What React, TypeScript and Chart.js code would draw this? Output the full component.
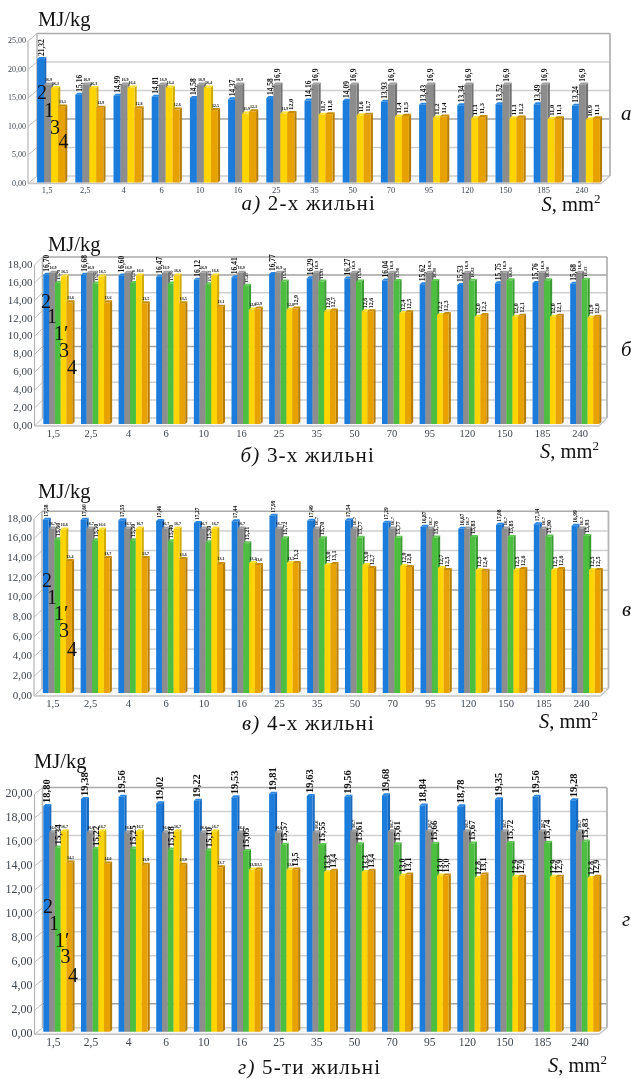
import React, { useEffect, useRef } from "react";
import { Chart, registerables } from "chart.js";

Chart.register(...registerables);

const categories = ["1,5", "2,5", "4", "6", "10", "16", "25", "35", "50", "70", "95", "120", "150", "185", "240"];

const aBlue = [21.32, 15.16, 14.99, 14.81, 14.58, 14.37, 14.58, 14.16, 14.09, 13.93, 13.43, 13.34, 13.52, 13.49, 13.24];
const aGray = [16.9, 16.9, 16.9, 16.9, 16.9, 16.9, 16.9, 16.9, 16.9, 16.9, 16.9, 16.9, 16.9, 16.9, 16.9];
const aYellow = [16.3, 16.3, 16.4, 16.4, 16.4, 11.9, 11.9, 11.7, 11.6, 11.4, 11.2, 11.1, 11.1, 11.0, 10.9];
const aOrange = [13.1, 12.9, 12.8, 12.6, 12.5, 12.3, 12.0, 11.8, 11.7, 11.5, 11.4, 11.3, 11.2, 11.1, 11.1];

const bBlue = [16.7, 16.68, 16.6, 16.47, 16.12, 16.41, 16.77, 16.29, 16.27, 16.04, 15.62, 15.53, 15.75, 15.76, 15.68];
const bGray = [16.9, 16.9, 16.9, 16.9, 16.9, 16.9, 16.9, 16.9, 16.9, 16.9, 16.9, 16.9, 16.9, 16.9, 16.9];
const bGreen = [15.79, 15.7, 15.76, 15.7, 15.63, 15.47, 15.94, 15.93, 15.94, 15.98, 16.0, 16.02, 16.06, 16.08, 16.13];
const bYellow = [16.5, 16.5, 16.6, 16.6, 16.6, 12.8, 12.8, 12.6, 12.6, 12.4, 12.2, 12.0, 12.0, 12.0, 11.9];
const bOrange = [13.6, 13.6, 13.5, 13.5, 13.1, 12.9, 12.9, 12.7, 12.6, 12.5, 12.3, 12.2, 12.1, 12.1, 12.0];

const cBlue = [17.58, 17.6, 17.55, 17.46, 17.27, 17.44, 17.99, 17.49, 17.54, 17.29, 16.87, 16.67, 17.08, 17.14, 16.99];
const cGray = [16.7, 16.7, 16.7, 16.7, 16.7, 16.7, 16.7, 16.7, 16.7, 16.7, 16.7, 16.7, 16.7, 16.7, 16.7];
const cGreen = [15.6, 15.5, 15.5, 15.4, 15.3, 15.21, 15.72, 15.7, 15.77, 15.77, 15.78, 15.83, 15.85, 15.9, 15.93];
const cYellow = [16.6, 16.6, 16.7, 16.7, 16.7, 13.2, 13.2, 13.0, 13.0, 12.9, 12.7, 12.5, 12.5, 12.5, 12.5];
const cOrange = [13.4, 13.7, 13.7, 13.6, 13.1, 13.0, 13.2, 13.1, 12.7, 12.8, 12.5, 12.4, 12.6, 12.6, 12.5];

const dBlue = [18.8, 19.38, 19.56, 19.02, 19.22, 19.53, 19.81, 19.63, 19.56, 19.68, 18.84, 18.78, 19.35, 19.56, 19.28];
const dGray = [16.6, 16.6, 16.6, 16.6, 16.6, 16.6, 16.6, 16.6, 16.7, 16.7, 16.7, 16.7, 16.7, 16.7, 16.7];
const dGreen = [15.34, 15.22, 15.25, 15.18, 15.1, 15.05, 15.57, 15.55, 15.61, 15.61, 15.66, 15.67, 15.72, 15.74, 15.83];
const dYellow = [16.7, 16.7, 16.7, 16.7, 16.7, 13.5, 13.5, 13.3, 13.3, 13.0, 13.0, 12.8, 12.9, 12.9, 12.8];
const dOrange = [14.1, 14.0, 13.9, 13.9, 13.7, 13.5, 13.5, 13.4, 13.4, 13.1, 13.0, 13.1, 12.9, 12.9, 12.9];

const SERIF = '"Liberation Serif"';
const BLUE = { label: "2", front: "#1b7cdc", side: "#1868bd", cap: "#2a86e0", decimals: 2 };
const GRAY = { label: "1", front: "#8d8d8d", side: "#727272", cap: "#a0a0a0", decimals: 1 };
const GREEN = { label: "1′", front: "#4dbf40", side: "#3a9c32", cap: "#5fc953", decimals: 2 };
const YELLOW = { label: "3", front: "#ffd400", side: "#d0ab00", cap: "#ffde33", decimals: 1 };
const ORANGE = { label: "4", front: "#e8a200", side: "#b57e00", cap: "#c48c00", decimals: 1 };

const fmt = (v: number, d: number) => v.toFixed(d).replace(".", ",");

type Panel = {
  canvasTop: number; canvasH: number;
  left: number; right: number; top: number; bottom: number;
  dx: number; dy: number; max: number; step: number;
  shiftX: number; shiftY: number; depthScale: number; frac: number;
  yFont: number; xFont: number; darkTicks: number[];
  series: { style: typeof BLUE; values: number[]; rotatedFrom: number; size: number }[];
};

const panels: Panel[] = [
  {
    canvasTop: 20, canvasH: 190, left: 28, right: 601, top: 41, bottom: 183.5,
    dx: 9, dy: 7.5, max: 25, step: 5, shiftX: 4, shiftY: 1, depthScale: 1.016, frac: 0.733,
    yFont: 8, xFont: 8.5, darkTicks: [10],
    series: [
      { style: BLUE, values: aBlue, rotatedFrom: 0, size: 7.5 },
      { style: GRAY, values: aGray, rotatedFrom: 6, size: 7.5 },
      { style: YELLOW, values: aYellow, rotatedFrom: 7, size: 6.5 },
      { style: ORANGE, values: aOrange, rotatedFrom: 6, size: 6.5 },
    ],
  },
  {
    canvasTop: 245, canvasH: 205, left: 34.5, right: 599, top: 265, bottom: 426,
    dx: 8, dy: 8, max: 18, step: 2, shiftX: 4.5, shiftY: 2, depthScale: 1, frac: 0.77,
    yFont: 11, xFont: 10.5, darkTicks: [8, 16],
    series: [
      { style: BLUE, values: bBlue, rotatedFrom: 0, size: 7.5 },
      { style: GRAY, values: bGray, rotatedFrom: 7, size: 5 },
      { style: GREEN, values: bGreen, rotatedFrom: 0, size: 4.5 },
      { style: YELLOW, values: bYellow, rotatedFrom: 7, size: 6 },
      { style: ORANGE, values: bOrange, rotatedFrom: 6, size: 6 },
    ],
  },
  {
    canvasTop: 495, canvasH: 225, left: 34, right: 600.5, top: 518.7, bottom: 696,
    dx: 8, dy: 7.5, max: 18, step: 2, shiftX: 4.5, shiftY: 3, depthScale: 1, frac: 0.77,
    yFont: 11, xFont: 10.5, darkTicks: [10],
    series: [
      { style: BLUE, values: cBlue, rotatedFrom: 0, size: 5.5 },
      { style: GRAY, values: cGray, rotatedFrom: 7, size: 5 },
      { style: GREEN, values: cGreen, rotatedFrom: 0, size: 6 },
      { style: YELLOW, values: cYellow, rotatedFrom: 7, size: 6 },
      { style: ORANGE, values: cOrange, rotatedFrom: 6, size: 6 },
    ],
  },
  {
    canvasTop: 765, canvasH: 295, left: 34.5, right: 599, top: 794, bottom: 1034.3,
    dx: 8, dy: 6.5, max: 20, step: 2, shiftX: 4.5, shiftY: 2.5, depthScale: 1, frac: 0.77,
    yFont: 12, xFont: 11.5, darkTicks: [2],
    series: [
      { style: BLUE, values: dBlue, rotatedFrom: 0, size: 10.5 },
      { style: GRAY, values: dGray, rotatedFrom: 7, size: 5 },
      { style: GREEN, values: dGreen, rotatedFrom: 0, size: 9 },
      { style: YELLOW, values: dYellow, rotatedFrom: 7, size: 8 },
      { style: ORANGE, values: dOrange, rotatedFrom: 6, size: 8 },
    ],
  },
];

function poly(ctx: CanvasRenderingContext2D, pts: number[][], fill: string) {
  ctx.beginPath();
  pts.forEach((p, i) => (i ? ctx.lineTo(p[0], p[1]) : ctx.moveTo(p[0], p[1])));
  ctx.closePath();
  ctx.fillStyle = fill;
  ctx.fill();
}

function line(ctx: CanvasRenderingContext2D, x1: number, y1: number, x2: number, y2: number, color: string, w: number) {
  ctx.beginPath();
  ctx.moveTo(x1, y1);
  ctx.lineTo(x2, y2);
  ctx.strokeStyle = color;
  ctx.lineWidth = w;
  ctx.stroke();
}

function pseudo3d(panel: Panel) {
  return {
    id: "pseudo3d",
    beforeDatasetsDraw(chart: any) {
      const ctx: CanvasRenderingContext2D = chart.ctx;
      const { left, right, top, bottom } = chart.chartArea;
      const yScale = chart.scales.y;
      const { dx, dy } = panel;

      // walls and floor
      poly(ctx, [[left, bottom], [right, bottom], [right + dx, bottom - dy], [left + dx, bottom - dy]], "#f8f8f8");
      yScale.ticks.forEach((t: any) => {
        const y = yScale.getPixelForValue(t.value);
        const isTop = t.value === panel.max;
        const dark = panel.darkTicks.includes(t.value);
        const color = isTop ? "#aaaaaa" : dark ? "#a2a2a2" : "#cfcfcf";
        line(ctx, left + dx, y - dy, right + dx, y - dy, color, isTop ? 1.6 : 1.5);
        line(ctx, left, y, left + dx, y - dy, "#bdbdbd", 1);
      });
      line(ctx, left + dx, top - dy, left + dx, bottom - dy, "#b5b5b5", 1.5);
      line(ctx, right + dx, top - dy, right + dx, bottom - dy, "#b5b5b5", 1.8);
      line(ctx, left, top, left, bottom, "#b5b5b5", 1.2);
      line(ctx, left, bottom, right, bottom, "#c4c4c4", 1.6);
      line(ctx, right, bottom, right + dx, bottom - dy, "#c4c4c4", 1.2);

      // bars, left to right so that each front hides the previous side
      const sx = 2.2;
      const sy = 2;
      const k = panel.depthScale;
      ctx.save();
      ctx.translate(panel.shiftX, -panel.shiftY + bottom * (1 - k));
      ctx.scale(1, k);
      panel.series.forEach((s, i) => {
        const meta = chart.getDatasetMeta(i);
        meta.data.forEach((bar: any) => {
          const l = bar.x - bar.width / 2;
          const r = bar.x + bar.width / 2;
          poly(ctx, [[r, bar.y], [r + sx, bar.y - sy], [r + sx, bar.base - sy], [r, bar.base]], s.style.side);
          poly(ctx, [[l, bar.y], [l + sx, bar.y - sy], [r + sx, bar.y - sy], [r, bar.y]], s.style.cap);
          bar.draw(ctx);
        });
      });
      ctx.restore();

      // value labels
      ctx.save();
      ctx.translate(panel.shiftX, -panel.shiftY);
      ctx.fillStyle = "#111111";
      panel.series.forEach((s, i) => {
        const meta = chart.getDatasetMeta(i);
        meta.data.forEach((bar: any, n: number) => {
          const text = fmt(s.values[n], s.style.decimals);
          const topY = bottom - (bottom - bar.y) * k;
          ctx.save();
          if (n >= s.rotatedFrom) {
            ctx.translate(bar.x + 1, topY - sy - 1);
            ctx.rotate(-Math.PI / 2);
            ctx.font = `bold ${s.size}px ${SERIF}`;
            ctx.textAlign = "left";
            ctx.textBaseline = "middle";
            ctx.fillText(text, 0, 0);
          } else {
            ctx.font = `bold 4px ${SERIF}`;
            ctx.textAlign = "center";
            ctx.textBaseline = "bottom";
            ctx.fillText(text, bar.x + 1, topY - sy - 0.5);
          }
          ctx.restore();
        });
      });
      ctx.restore();
      return false;
    },
  };
}

function PanelChart({ panel }: { panel: Panel }) {
  const ref = useRef<HTMLCanvasElement | null>(null);
  useEffect(() => {
    const chart = new Chart(ref.current as HTMLCanvasElement, {
      type: "bar",
      data: {
        labels: categories,
        datasets: panel.series.map((s) => ({
          label: s.style.label,
          data: s.values,
          backgroundColor: s.style.front,
          borderWidth: 0,
          barPercentage: 1,
          categoryPercentage: panel.frac,
        })),
      },
      options: {
        animation: false,
        responsive: false,
        maintainAspectRatio: false,
        layout: { padding: { left: 0, right: 631 - panel.right, top: panel.top - panel.canvasTop, bottom: 0 } },
        plugins: { legend: { display: false }, title: { display: false }, tooltip: { enabled: false } },
        scales: {
          x: {
            grid: { display: false, drawTicks: false },
            border: { display: false },
            ticks: {
              autoSkip: false,
              maxRotation: 0,
              padding: 2,
              color: "#3d4650",
              font: { family: SERIF, size: panel.xFont },
            },
            afterFit: (s: any) => { s.height = panel.canvasTop + panel.canvasH - panel.bottom; },
          },
          y: {
            min: 0,
            max: panel.max,
            grid: { display: false, drawTicks: false },
            border: { display: false },
            ticks: {
              stepSize: panel.step,
              padding: 2,
              color: "#3d4650",
              font: { family: SERIF, size: panel.yFont },
              callback: (v: any) => fmt(Number(v), 2),
            },
            afterFit: (s: any) => { s.width = panel.left; },
          },
        },
      },
      plugins: [pseudo3d(panel)],
    } as any);
    return () => chart.destroy();
  }, [panel]);
  return (
    <canvas
      ref={ref}
      width={631}
      height={panel.canvasH}
      style={{ position: "absolute", left: 0, top: panel.canvasTop, width: 631, height: panel.canvasH }}
    />
  );
}

function Txt({ x, base, size, children, spacing }: any) {
  return (
    <span
      style={{
        position: "absolute",
        left: x,
        top: base - 0.8375 * size,
        fontFamily: SERIF,
        fontSize: size,
        lineHeight: 1,
        whiteSpace: "nowrap",
        color: "#111111",
        letterSpacing: spacing || 0,
      }}
    >
      {children}
    </span>
  );
}

const unitText = "MJ/kg";
const axisName = ", mm";
const captions = [
  { letter: "а)", rest: " 2-х жильні", side: "а", x: 241.5, base: 211, sX: 541.5, sBase: 211.5, uX: 38, uBase: 26, lX: 621, lBase: 121 },
  { letter: "б)", rest: " 3-х жильні", side: "б", x: 240.5, base: 463, sX: 540, sBase: 458, uX: 48, uBase: 251, lX: 621, lBase: 357 },
  { letter: "в)", rest: " 4-х жильні", side: "в", x: 242, base: 731, sX: 539, sBase: 728, uX: 38, uBase: 498, lX: 622, lBase: 617 },
  { letter: "г)", rest: " 5-ти жильні", side: "г", x: 238, base: 1075, sX: 548, sBase: 1072, uX: 34, uBase: 768, lX: 622, lBase: 927 },
];

const numerals = [
  [["2", 37, 99], ["1", 44, 117], ["3", 50, 134], ["4", 58.5, 148]],
  [["2", 41, 308], ["1", 47, 323], ["1′", 54, 340], ["3", 59, 357], ["4", 67, 374]],
  [["2", 42, 587], ["1", 47, 604], ["1′", 54, 620], ["3", 59, 637], ["4", 67, 656]],
  [["2", 43, 913], ["1", 49, 930], ["1′", 55, 947], ["3", 60.5, 963], ["4", 68, 982]],
];

export default function App() {
  return (
    <div style={{ position: "absolute", left: 0, top: 0, width: 631, height: 1079, overflow: "hidden", background: "#ffffff" }}>
      {panels.map((p, i) => (
        <PanelChart key={i} panel={p} />
      ))}
      {captions.map((c, i) => (
        <React.Fragment key={i}>
          <Txt x={c.uX} base={c.uBase} size={20.5}>{unitText}</Txt>
          <Txt x={c.x} base={c.base} size={21} spacing={1.2}>
            <i>{c.letter}</i>{c.rest}
          </Txt>
          <Txt x={c.sX} base={c.sBase} size={20.5}>
            <i>S</i>{axisName}<sup style={{ fontSize: 13, lineHeight: 0, verticalAlign: "8px" }}>2</sup>
          </Txt>
          <Txt x={c.lX} base={c.lBase} size={21}><i>{c.side}</i></Txt>
        </React.Fragment>
      ))}
      {numerals.flatMap((group, i) =>
        group.map((n, k) => (
          <Txt key={`${i}-${k}`} x={n[1]} base={n[2]} size={20}>{n[0]}</Txt>
        ))
      )}
    </div>
  );
}
